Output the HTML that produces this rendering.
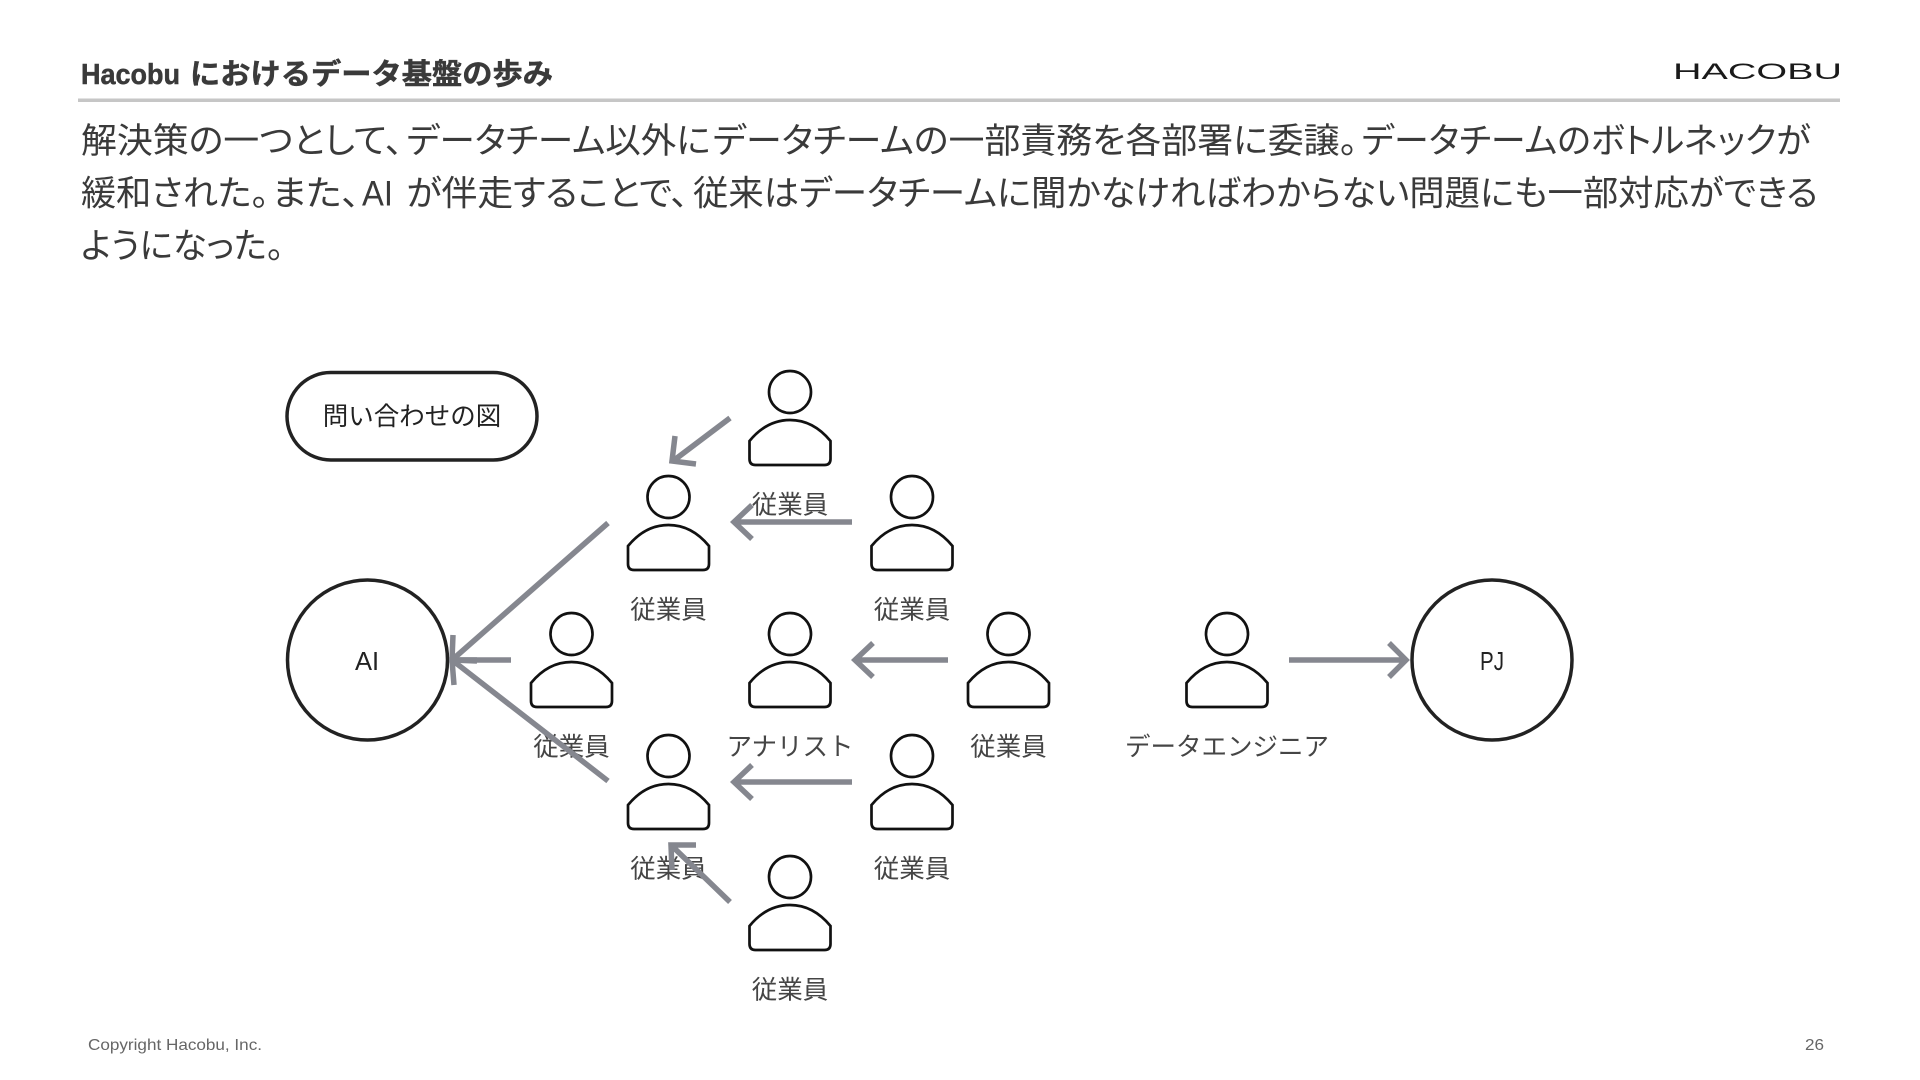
<!DOCTYPE html>
<html lang="ja">
<head>
<meta charset="utf-8">
<title>Hacobu におけるデータ基盤の歩み</title>
<style>
html,body{margin:0;padding:0;background:#fff;width:1920px;height:1080px;overflow:hidden}
svg{display:block}
text{font-family:"Liberation Sans","Noto Sans CJK JP",sans-serif}
.b{font-size:35px;fill:#3a3a3a;font-feature-settings:"palt"}
.l{font-size:25.5px;fill:#454545;text-anchor:middle}
.n{font-size:25.5px;fill:#222;text-anchor:middle}
.f{font-size:16px;fill:#666}
.t{font-size:29px;font-weight:bold;fill:#3a3a3a;stroke:#3a3a3a;stroke-width:.5}
.a{fill:none;stroke:#85878f;stroke-width:5.5;stroke-linecap:butt;stroke-linejoin:miter}
.c{fill:#fff;stroke:#222;stroke-width:3.5}
</style>
</head>
<body>
<svg width="1920" height="1080" viewBox="0 0 1920 1080" xmlns="http://www.w3.org/2000/svg">
<defs>
<g id="p" fill="#fff" stroke="#111" stroke-width="2.7">
<circle cx="0" cy="0" r="21"/>
<path d="M-40.5,49 C-29,35 -15,28 0,28 C15,28 29,35 40.5,49 V67 Q40.5,73 34.5,73 H-34.5 Q-40.5,73 -40.5,67 Z"/>
</g>
</defs>
<rect width="1920" height="1080" fill="#fff"/>

<text class="t" x="81" y="84" textLength="99" lengthAdjust="spacingAndGlyphs">Hacobu</text>
<text class="t" x="190" y="84" textLength="363" lengthAdjust="spacingAndGlyphs">におけるデータ基盤の歩み</text>
<rect x="78" y="98.5" width="1762" height="3.5" fill="#c6c6c6"/>
<text x="1673" y="79" font-size="22" fill="#1a1a1a" textLength="169" lengthAdjust="spacingAndGlyphs">HACOBU</text>

<text class="b" x="81" y="153" textLength="322" lengthAdjust="spacingAndGlyphs">解決策の一つとして、</text>
<text class="b" x="406.5" y="153" textLength="304" lengthAdjust="spacingAndGlyphs">データチーム以外に</text>
<text class="b" x="712.6" y="153" textLength="645" lengthAdjust="spacingAndGlyphs">データチームの一部責務を各部署に委譲。</text>
<text class="b" x="1361.6" y="153" textLength="449" lengthAdjust="spacingAndGlyphs">データチームのボトルネックが</text>

<text class="b" x="81" y="205.5" textLength="188" lengthAdjust="spacingAndGlyphs">緩和された。</text>
<text class="b" x="272" y="205.5" textLength="88" lengthAdjust="spacingAndGlyphs">また、</text>
<text class="b" x="362" y="205.5" textLength="31" lengthAdjust="spacingAndGlyphs">AI</text>
<text class="b" x="406.5" y="205.5" textLength="282" lengthAdjust="spacingAndGlyphs">が伴走することで、</text>
<text class="b" x="693" y="205.5" textLength="1125" lengthAdjust="spacingAndGlyphs">従来はデータチームに聞かなければわからない問題にも一部対応ができる</text>

<text class="b" x="81" y="258" textLength="203" lengthAdjust="spacingAndGlyphs">ようになった。</text>

<rect x="287" y="372.5" width="250" height="87.5" rx="43.75" class="c"/>
<text class="n" x="412" y="425">問い合わせの図</text>
<circle cx="367.5" cy="660" r="80" class="c"/>
<text class="n" x="367" y="670">AI</text>
<circle cx="1492" cy="660" r="80" class="c"/>
<text class="n" x="1492" y="670" textLength="24" lengthAdjust="spacingAndGlyphs">PJ</text>

<use href="#p" x="790" y="392"/>
<use href="#p" x="668.5" y="497"/>
<use href="#p" x="912" y="497"/>
<use href="#p" x="571.5" y="634"/>
<use href="#p" x="790" y="634"/>
<use href="#p" x="1008.5" y="634"/>
<use href="#p" x="1227" y="634"/>
<use href="#p" x="668.5" y="756"/>
<use href="#p" x="912" y="756"/>
<use href="#p" x="790" y="877"/>

<text class="l" x="790" y="513.5">従業員</text>
<text class="l" x="668.5" y="618.5">従業員</text>
<text class="l" x="912" y="618.5">従業員</text>
<text class="l" x="571.5" y="755.5">従業員</text>
<text class="l" x="790" y="755.5">アナリスト</text>
<text class="l" x="1008.5" y="755.5">従業員</text>
<text class="l" x="1227" y="755.5">データエンジニア</text>
<text class="l" x="668.5" y="877.5">従業員</text>
<text class="l" x="912" y="877.5">従業員</text>
<text class="l" x="790" y="998.5">従業員</text>

<g class="a">
<path d="M730,418 L673,461 M675,436 L672,461 L696,464"/>
<path d="M852,522 L734,522 M752,505 L734,522 L752,539"/>
<path d="M608,523 L452,660 M453,635 L452,660 L477,661"/>
<path d="M511,660 L452,660"/>
<path d="M608,781 L452,660 M477,660 L452,660 L454,685"/>
<path d="M948,660 L855,660 M873,643 L855,660 L873,677"/>
<path d="M852,782 L734,782 M752,765 L734,782 L752,799"/>
<path d="M730,902 L672,846 M696,845 L671,845 L672,870"/>
<path d="M1289,660 L1406,660 M1389,643 L1406,660 L1389,677"/>
</g>

<text class="f" x="88" y="1050" textLength="174" lengthAdjust="spacingAndGlyphs">Copyright Hacobu, Inc.</text>
<text class="f" x="1805" y="1050" textLength="19" lengthAdjust="spacingAndGlyphs">26</text>
</svg>
</body>
</html>
